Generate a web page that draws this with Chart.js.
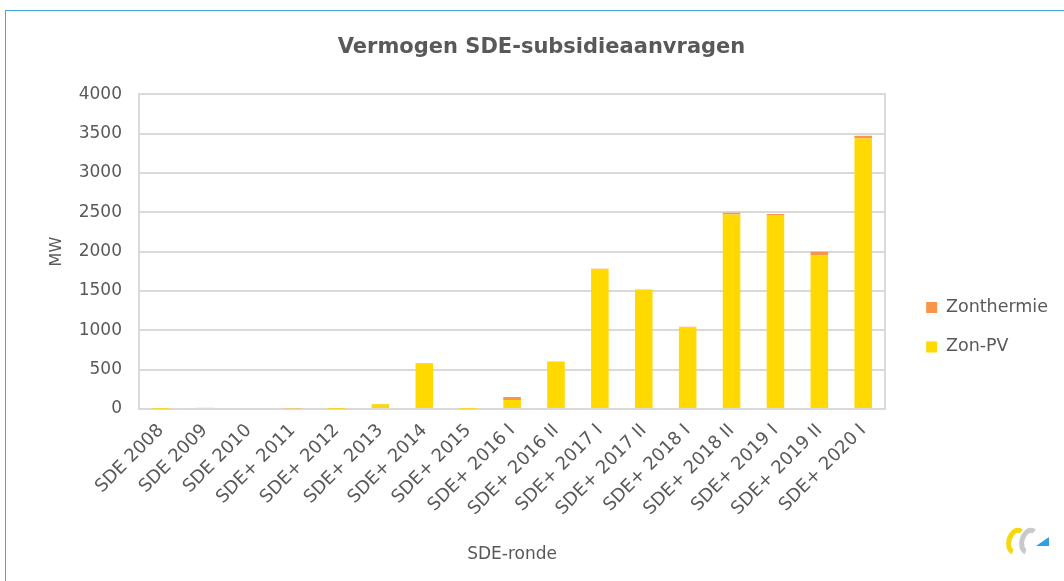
<!DOCTYPE html>
<html>
<head>
<meta charset="utf-8">
<script src="https://cdn.jsdelivr.net/npm/chart.js@4"></script>
<style>
  body { margin: 0; background: #fff; overflow: hidden; }
  #frame {
    position: absolute; left: 5px; top: 10px;
    width: 1075px; height: 580px;
    border-left: 1px solid #3fa9dc; border-top: 1px solid #3fa9dc;
  }
  canvas { display: block; }
</style>
</head>
<body>
<div id="frame"><canvas id="chart" width="1074" height="570"></canvas></div>
<script>
const rondes = ['SDE 2008', 'SDE 2009', 'SDE 2010', 'SDE+ 2011', 'SDE+ 2012', 'SDE+ 2013',
  'SDE+ 2014', 'SDE+ 2015', 'SDE+ 2016 I', 'SDE+ 2016 II', 'SDE+ 2017 I', 'SDE+ 2017 II',
  'SDE+ 2018 I', 'SDE+ 2018 II', 'SDE+ 2019 I', 'SDE+ 2019 II', 'SDE+ 2020 I'];
const zonPV = [3, 15, 12, 10, 4, 60, 575, 2, 115, 600, 1778, 1515, 1040, 2470, 2466, 1955, 3436];
const zonthermie = [1, 2, 2, 2, 3, 5, 5, 1, 38, 5, 5, 5, 5, 25, 12, 42, 35];

const textColor = '#595959';
const gridColor = '#d9d9d9';
const font = 'DejaVu Sans';

// small logo bottom right
const logo = {
  id: 'logo',
  afterDraw(chart) {
    const ctx = chart.ctx;
    ctx.save();
    ctx.lineWidth = 5;
    ctx.strokeStyle = '#f5d80f';
    ctx.beginPath();
    ctx.ellipse(1010, 530, 7, 11, 0.3, Math.PI * 0.5, Math.PI * 1.6);
    ctx.stroke();
    ctx.strokeStyle = '#c9c9c9';
    ctx.beginPath();
    ctx.ellipse(1023, 530, 7, 11, 0.3, Math.PI * 0.5, Math.PI * 1.6);
    ctx.stroke();
    ctx.fillStyle = '#2e9fe0';
    ctx.beginPath();
    ctx.moveTo(1030, 535);
    ctx.lineTo(1043, 526);
    ctx.lineTo(1043, 535);
    ctx.closePath();
    ctx.fill();
    ctx.restore();
  }
};

new Chart(document.getElementById('chart'), {
  type: 'bar',
  data: {
    labels: rondes,
    datasets: [
      { label: 'Zon-PV', data: zonPV, backgroundColor: '#ffd900', borderWidth: 0 },
      { label: 'Zonthermie', data: zonthermie, backgroundColor: '#f7964a', borderWidth: 0 }
    ]
  },
  options: {
    responsive: false,
    animation: false,
    layout: { padding: { left: 19, right: 22, top: 0, bottom: 12 } },
    datasets: { bar: { categoryPercentage: 1, barPercentage: 0.4 } },
    plugins: {
      title: {
        display: true,
        text: 'Vermogen SDE-subsidieaanvragen',
        color: textColor,
        font: { family: font, size: 21, weight: 'bold' },
        padding: { top: 24, bottom: 34 }
      },
      legend: {
        position: 'right',
        reverse: true,
        title: { display: true, text: ' ', padding: { top: 60, bottom: 0 } },
        labels: {
          color: textColor,
          font: { family: font, size: 17.5 },
          boxWidth: 11, boxHeight: 11,
          padding: 22
        }
      },
      tooltip: { enabled: false }
    },
    scales: {
      x: {
        stacked: true,
        grid: { display: false },
        border: { color: gridColor, width: 2 },
        ticks: {
          color: textColor,
          font: { family: font, size: 18 },
          maxRotation: 45, minRotation: 45, autoSkip: false
        },
        title: {
          display: true, text: 'SDE-ronde', color: textColor,
          font: { family: font, size: 17 }, padding: { top: 4, bottom: 4 }
        },
        afterFit(scale) { scale.height = 160; }
      },
      y: {
        stacked: true,
        min: 0, max: 4000,
        ticks: {
          stepSize: 500, color: textColor,
          font: { family: font, size: 17 }, padding: 17,
          callback: (v) => String(v)
        },
        grid: { color: gridColor, lineWidth: 2, drawTicks: false },
        border: { color: gridColor, width: 2 },
        title: {
          display: true, text: 'MW', color: textColor,
          font: { family: font, size: 16 }, padding: { top: 22 }
        },
        afterFit(scale) { scale.width = 114; }
      },
      // plot area right edge + gap before the legend
      yRight: {
        position: 'right',
        display: true,
        min: 0, max: 4000,
        grid: { display: false, drawTicks: false },
        ticks: { display: false },
        border: { color: gridColor, width: 2 },
        afterFit(scale) { scale.width = 19; }
      }
    }
  },
  plugins: [logo]
});
</script>
</body>
</html>
